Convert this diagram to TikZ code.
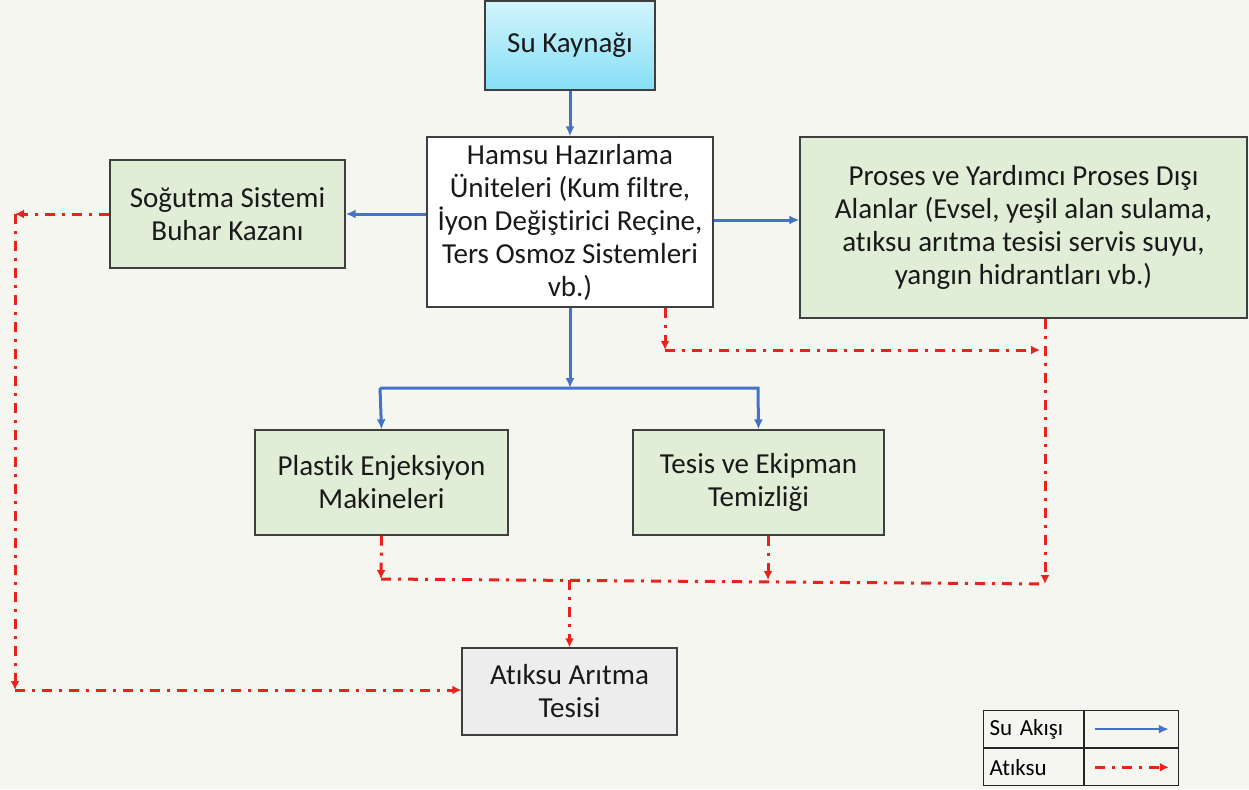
\documentclass[tikz,border=0pt]{standalone}
\usepackage{fontspec}
\setmainfont{Carlito}[RawFeature=-liga]
\usetikzlibrary{arrows.meta}

\definecolor{bgcol}{HTML}{F6F6F1}
\definecolor{boxgreen}{HTML}{E0EDD7}
\definecolor{boxgray}{HTML}{EDEDED}
\definecolor{edgecol}{HTML}{3F3F3F}
\definecolor{flowblue}{HTML}{4472C4}
\definecolor{wastered}{HTML}{E8231E}
\definecolor{srctop}{HTML}{D2F4FC}
\definecolor{srcbot}{HTML}{86DFF6}

\tikzset{
    box/.style={draw=edgecol, line width=1.3pt, align=center, inner sep=2pt,
        font=\fontsize{29}{33}\selectfont, text=black!90},
    flow/.style={flowblue, line width=3pt, -{Latex[length=10pt,width=9pt]}},
    waste/.style={wastered, line width=3pt, dash pattern=on 10pt off 7pt on 3pt off 7pt,
        -{Latex[length=9pt,width=9pt]}},
    wasteline/.style={wastered, line width=3pt, dash pattern=on 10pt off 7pt on 3pt off 7pt},
    legcell/.style={draw=black!85, line width=1.2pt, minimum height=37pt,
        font=\fontsize{23}{26}\selectfont}
}

\begin{document}
\begin{tikzpicture}[x=1pt, y=-1pt]
    \fill [bgcol] (0, 0) rectangle (1249, 789);

    \node [box, top color=srctop, bottom color=srcbot, minimum width=170pt, minimum height=89pt]
        (src) at (570, 45.5) {Su Kaynağı};
    \node [box, fill=white, minimum width=286pt, minimum height=170pt]
        (hamsu) at (570, 222) {Hamsu Hazırlama\\Üniteleri (Kum filtre,\\İyon Değiştirici Reçine,\\Ters Osmoz Sistemleri\\vb.)};
    \node [box, fill=boxgreen, minimum width=235pt, minimum height=108pt]
        (sogut) at (227.5, 214) {Soğutma Sistemi\\Buhar Kazanı};
    \node [box, fill=boxgreen, minimum width=447pt, minimum height=181pt]
        (proses) at (1023.5, 227.5) {Proses ve Yardımcı Proses Dışı\\Alanlar (Evsel, yeşil alan sulama,\\atıksu arıtma tesisi servis suyu,\\yangın hidrantları vb.)};
    \node [box, fill=boxgreen, minimum width=253pt, minimum height=105pt]
        (plastik) at (381.5, 482.5) {Plastik Enjeksiyon\\Makineleri};
    \node [box, fill=boxgreen, minimum width=251pt, minimum height=105pt]
        (tesis) at (758.5, 482.5) {Tesis ve Ekipman\\Temizliği};
    \node [box, fill=boxgray, minimum width=215pt, minimum height=87pt]
        (aritma) at (569.5, 691.5) {Atıksu Arıtma\\Tesisi};

    \coordinate (bl) at (380, 388);
    \coordinate (br) at (758, 388);
    \draw [flow] (src) -- (hamsu);
    \draw [flow] (hamsu.west |- sogut) -- (sogut.east);
    \draw [flow] (hamsu.east |- 0, 220) -- (proses.west |- 0, 220);
    \draw [flow] (hamsu.south) -- (hamsu.south |- bl);
    \draw [flow] (bl) -- (plastik.north);
    \draw [flow] (bl) -- (br) -- (tesis.north);

    \coordinate (ha) at (665, 350);
    \coordinate (hb) at (1040, 350);
    \coordinate (pc) at (1045, 584);
    \coordinate (pl) at (381, 579);
    \coordinate (te) at (768, 580);
    \coordinate (sa) at (15, 214);
    \coordinate (sb) at (15, 690);
    \draw [waste] (hamsu.south -| ha) -- (ha);
    \draw [waste] (ha) -- (hb);
    \draw [waste] (proses.south -| pc) -- (pc);
    \draw [waste] (plastik.south) -- (pl);
    \draw [waste] (tesis.south -| te) -- (te);
    \draw [wasteline] (pl) -- (pc);
    \draw [waste] (aritma.north |- te) -- (aritma.north);
    \draw [waste] (sogut.west) -- (sa);
    \draw [waste] (sa) -- (sb);
    \draw [waste] (sb) -- (sb -| aritma.west);

    \node [legcell, minimum width=100pt, anchor=north west, text width=88pt, align=left]
        (lga) at (983, 710) {Su Akışı};
    \node [legcell, minimum width=94pt, anchor=north west] (lgb) at (lga.north east) {};
    \node [legcell, minimum width=100pt, anchor=north west, text width=88pt, align=left]
        (lgc) at (lga.south west) {Atıksu};
    \node [legcell, minimum width=94pt, anchor=north west] (lgd) at (lgc.north east) {};
    \draw [flow, line width=2.5pt] ([xshift=-37pt]lgb.center) -- ([xshift=37pt]lgb.center);
    \draw [waste, line width=2.5pt] ([xshift=-37pt]lgd.center) -- ([xshift=37pt]lgd.center);
\end{tikzpicture}
\end{document}
